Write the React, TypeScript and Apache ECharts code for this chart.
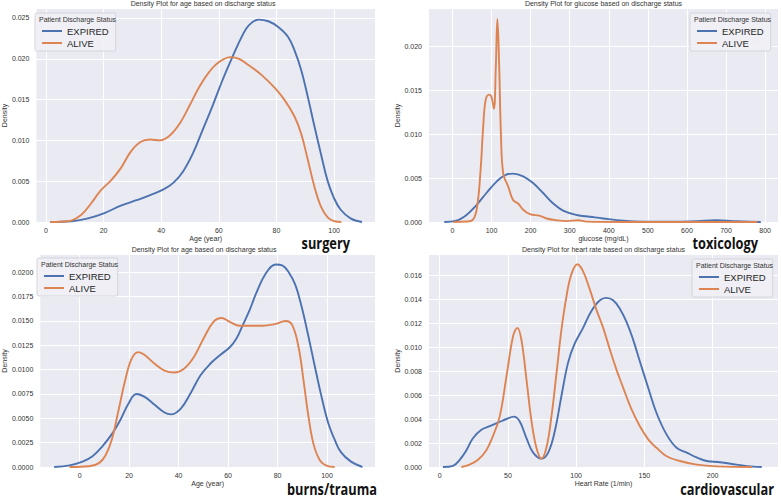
import React, { useEffect, useRef } from 'react';
import * as echarts from 'echarts';

// ---- data (x, density) ----
const surgeryExpired: [number, number][] = [
  [1.5, 0], [8.9, 0.0001], [14.6, 0.00045], [20.3, 0.0011], [26, 0.002], [31.7, 0.0027], [36.2, 0.0033],
  [40.8, 0.004], [44.2, 0.0048], [47.6, 0.0062], [51, 0.0084], [54.4, 0.0113], [57.9, 0.0143], [61.3, 0.0174],
  [64.7, 0.0202], [68.1, 0.0228], [70.4, 0.0241], [73.8, 0.0248], [77.2, 0.0246], [80.6, 0.0239], [84, 0.0227],
  [86.3, 0.021], [88.6, 0.0186], [90.9, 0.0153], [93.2, 0.0117], [95.4, 0.0084], [97.7, 0.0051], [100, 0.0029],
  [102.3, 0.0015], [105.7, 0.00045], [109.7, 0.0],
];
const surgeryAlive: [number, number][] = [
  [1.5, 0], [7.7, 0.0001], [12.3, 0.0009], [15.7, 0.0023], [19.1, 0.0039], [22.6, 0.0051], [26, 0.0066],
  [29.4, 0.0086], [32.8, 0.0098], [36.2, 0.0101], [39.6, 0.01], [43, 0.0106], [46.5, 0.0121], [49.9, 0.0143],
  [53.3, 0.0166], [56.7, 0.0184], [60.1, 0.0196], [64.1, 0.0202], [67, 0.02], [70.4, 0.0192], [74.9, 0.018],
  [79.5, 0.0164], [82.9, 0.0149], [86.3, 0.0129], [88.6, 0.0108], [90.9, 0.0076], [93.2, 0.0043], [95.4, 0.0019],
  [97.7, 0.0006], [100, 0.0001], [102.5, 0],
];
const toxExpired: [number, number][] = [
  [-21, 0], [10, 0.00015], [36, 0.0008], [61, 0.0019], [87, 0.0033], [113, 0.0046], [138, 0.0054], [155, 0.0055],
  [181, 0.0052], [207, 0.0044], [232, 0.0033], [258, 0.0021], [283, 0.0013], [318, 0.0008], [352, 0.0006],
  [386, 0.0004], [437, 0.00015], [488, 0.00004], [565, 0.00002], [625, 0.0001], [676, 0.0002], [719, 0.0001],
  [762, 0.00002], [789, 0],
];
const toxAlive: [number, number][] = [
  [2, 0], [36, 0.00005], [53, 0.0003], [63, 0.0017], [72, 0.0059], [78.6, 0.0108], [85, 0.0139], [94, 0.0145],
  [100, 0.0142], [106, 0.0129], [111, 0.0177], [115, 0.0231], [119.6, 0.0177], [124, 0.0101], [130, 0.0055],
  [143, 0.004], [155, 0.0025], [168, 0.0021], [181, 0.0014], [198, 0.0009], [224, 0.0007], [241, 0.0004],
  [266, 0.0002], [292, 0.0001], [322, 0.0002], [343, 0.00004], [437, 0], [780, 0],
];
const burnsExpired: [number, number][] = [
  [-10.3, 0], [-4.1, 0.00017], [1.2, 0.00055], [5.2, 0.0011], [9.1, 0.0021], [13.1, 0.0034], [16.4, 0.0048],
  [19.7, 0.0065], [23, 0.0075], [26.3, 0.0072], [30.3, 0.0064], [34.3, 0.0056], [36.9, 0.0054], [40.9, 0.006],
  [44.9, 0.0076], [48.8, 0.0094], [52.8, 0.0106], [56.8, 0.0115], [60.7, 0.0123], [63.4, 0.0132], [66, 0.0146],
  [68.7, 0.0161], [71.3, 0.0178], [75.3, 0.0199], [79.3, 0.0208], [81.9, 0.0207], [84.5, 0.02], [87.2, 0.0187],
  [89.8, 0.0164], [92.5, 0.0134], [95.1, 0.0103], [97.8, 0.0072], [100.4, 0.0046], [103.1, 0.0028],
  [105.7, 0.0015], [109.7, 0.00055], [114.3, 0.0],
];
const burnsAlive: [number, number][] = [
  [-4.1, 0], [3.8, 0.00007], [7.8, 0.0004], [10.5, 0.0012], [13.1, 0.0029], [15.7, 0.0058], [18.4, 0.0089],
  [21, 0.0111], [23.7, 0.0118], [26.3, 0.0115], [30.3, 0.0106], [34.3, 0.0099], [38.2, 0.0097], [42.2, 0.0101],
  [46.2, 0.0113], [50.1, 0.0132], [54.1, 0.0149], [57.4, 0.0153], [60.7, 0.0149], [64.7, 0.0145], [68.7, 0.0145],
  [73.9, 0.0145], [79.3, 0.0147], [83.2, 0.015], [85.9, 0.0146], [88.5, 0.0123], [90.5, 0.0089], [92.5, 0.0052],
  [94.5, 0.0024], [97.1, 0.0007], [99.8, 0.00014], [103.1, 0],
];
const cardioExpired: [number, number][] = [
  [2.4, 0], [9.8, 0.0001], [14.7, 0.0006], [19.6, 0.0014], [24.4, 0.0024], [30.6, 0.0031], [36.7, 0.0034],
  [42.8, 0.0037], [48.9, 0.004], [54.3, 0.0042], [58.7, 0.0038], [63.6, 0.0024], [68.5, 0.0012], [74.6, 0.0007],
  [79.5, 0.0012], [84.4, 0.003], [89.2, 0.0059], [94.1, 0.0087], [99, 0.0103], [105.1, 0.0116], [111.2, 0.013],
  [117.4, 0.0139], [122.2, 0.0141], [127.1, 0.0139], [132, 0.0132], [136.9, 0.0121], [141.8, 0.0106],
  [146.7, 0.0088], [152.8, 0.0066], [158.9, 0.0045], [166.3, 0.0027], [173.6, 0.0016], [181, 0.0012],
  [188.3, 0.0008], [195.6, 0.0005], [205.4, 0.0004], [217.6, 0.0002], [229.8, 0.00003], [236, 0],
];
const cardioAlive: [number, number][] = [
  [15.9, 0], [22, 0.0002], [28.1, 0.0006], [34.2, 0.0014], [39.1, 0.0026], [44, 0.0042], [48.9, 0.0075],
  [53.8, 0.0109], [57, 0.0116], [59.9, 0.0106], [63.6, 0.0073], [67.2, 0.0039], [70.9, 0.0016], [74.6, 0.0007],
  [78.2, 0.0016], [81.9, 0.0042], [85.6, 0.0078], [89.2, 0.0114], [92.9, 0.0142], [96.6, 0.0161], [101, 0.0169],
  [105.1, 0.0163], [110, 0.0148], [114.9, 0.0131], [119.8, 0.0116], [124.7, 0.0098], [129.6, 0.0081],
  [134.5, 0.0066], [140.6, 0.0048], [146.7, 0.0034], [152.8, 0.0023], [158.9, 0.0016], [166.3, 0.0009],
  [176, 0.0005], [188.3, 0.0002], [203, 0.00005], [228.6, 0],
];

const surgeryXTicks = [0, 20, 40, 60, 80, 100];
const surgeryYTicks = [0, 0.005, 0.01, 0.015, 0.02, 0.025];
const toxXTicks = [0, 100, 200, 300, 400, 500, 600, 700, 800];
const toxYTicks = [0, 0.005, 0.01, 0.015, 0.02];
const burnsXTicks = [0, 20, 40, 60, 80, 100, 120];
const burnsYTicks = [0, 0.0025, 0.005, 0.0075, 0.01, 0.0125, 0.015, 0.0175, 0.02];
const cardioXTicks = [0, 50, 100, 150, 200];
const cardioYTicks = [0, 0.002, 0.004, 0.006, 0.008, 0.01, 0.012, 0.014, 0.016];

const titles = [
  'Density Plot for age based on discharge status',
  'Density Plot for glucose based on discharge status',
  'Density Plot for age based on discharge status',
  'Density Plot for heart rate based on discharge status',
];
const xNames = ['Age (year)', 'glucose (mg/dL)', 'Age (year)', 'Heart Rate (1/min)'];
const tags = ['surgery', 'toxicology', 'burns/trauma', 'cardiovascular'];
const seriesNames = ['EXPIRED', 'ALIVE'];

const BLUE = '#4C72B0';
const ORANGE = '#DD8452';
const FONT = '"Liberation Sans", Arial, sans-serif';
const TXT = '#333';

export default function App() {
  const ref = useRef<HTMLDivElement>(null);
  useEffect(() => {
    if (!ref.current) return;
    const chart = echarts.init(ref.current, undefined, { renderer: 'svg' });

    const grids = [
      { left: 31, top: 9, width: 344, height: 213 },
      { left: 429, top: 9, width: 349, height: 213 },
      { left: 33, top: 255, width: 342, height: 212 },
      { left: 429, top: 255, width: 349, height: 212 },
    ];
    const xRanges = [[-3.3, 114.2], [-60, 833], [-15.9, 119.4], [-7.8, 247.9]];
    const yMax = [0.0261, 0.02424, 0.02177, 0.01767];
    const xTicks = [surgeryXTicks, toxXTicks, burnsXTicks, cardioXTicks];
    const yTicks = [surgeryYTicks, toxYTicks, burnsYTicks, cardioYTicks];
    const yDigits = [3, 3, 4, 3];
    const yNameGap = [24, 24, 27, 24];
    const data = [
      [surgeryExpired, surgeryAlive],
      [toxExpired, toxAlive],
      [burnsExpired, burnsAlive],
      [cardioExpired, cardioAlive],
    ];
    const legendPos = [
      { left: 35, top: 13 },
      { left: 690, top: 13 },
      { left: 37, top: 258 },
      { left: 692, top: 259 },
    ];
    const tagPos = [
      { x: 350, y: 243 },
      { x: 758, y: 243 },
      { x: 377, y: 489 },
      { x: 774, y: 489 },
    ];

    const series: any[] = [];
    data.forEach((pair, i) => {
      pair.forEach((d, j) => {
        series.push({
          type: 'line',
          name: seriesNames[j],
          xAxisIndex: i,
          yAxisIndex: i,
          data: d,
          showSymbol: false,
          symbol: 'none',
          smooth: 0.4,
          lineStyle: { width: 1.9, color: j === 0 ? BLUE : ORANGE },
          itemStyle: { color: j === 0 ? BLUE : ORANGE },
          z: 3 + j,
        });
      });
    });

    const option: any = {
      animation: false,
      backgroundColor: '#ffffff',
      textStyle: { fontFamily: FONT },
      title: grids.map((g, i) => ({
        text: titles[i],
        left: g.left + g.width / 2,
        textAlign: 'center',
        top: g.top - 9,
        padding: 0,
        textStyle: { fontSize: 7, fontWeight: 'normal', color: TXT, fontFamily: FONT },
      })),
      grid: grids.map((g) => ({
        ...g,
        show: true,
        backgroundColor: '#EAEAF2',
        borderWidth: 0,
        containLabel: false,
      })),
      xAxis: grids.map((g, i) => ({
        type: 'value',
        gridIndex: i,
        min: xRanges[i][0],
        max: xRanges[i][1],
        name: xNames[i],
        nameLocation: 'middle',
        nameGap: 13,
        nameTextStyle: { fontSize: 7, color: TXT, fontFamily: FONT },
        axisLine: { show: false },
        axisTick: { show: false, customValues: xTicks[i] },
        axisLabel: {
          customValues: xTicks[i],
          fontSize: 7,
          color: TXT,
          margin: 5,
          fontFamily: FONT,
          showMinLabel: true,
          showMaxLabel: true,
        },
        splitLine: { show: true, lineStyle: { color: '#ffffff', width: 1 } },
      })),
      yAxis: grids.map((g, i) => ({
        type: 'value',
        gridIndex: i,
        min: 0,
        max: yMax[i],
        name: 'Density',
        nameLocation: 'middle',
        nameGap: yNameGap[i],
        nameRotate: 90,
        nameTextStyle: { fontSize: 7, color: TXT, fontFamily: FONT },
        axisLine: { show: false },
        axisTick: { show: false, customValues: yTicks[i] },
        axisLabel: {
          customValues: yTicks[i],
          fontSize: 7,
          color: TXT,
          margin: 7,
          fontFamily: FONT,
          formatter: (v: number) => v.toFixed(yDigits[i]),
        },
        splitLine: { show: true, lineStyle: { color: '#ffffff', width: 1 } },
      })),
      legend: legendPos.map((p) => ({
        left: p.left,
        top: p.top,
        orient: 'vertical',
        data: seriesNames.map((n) => ({ name: n, icon: 'rect' })),
        itemWidth: 20,
        itemHeight: 2,
        itemGap: 2,
        padding: [13, 7, 3, 7],
        backgroundColor: 'rgba(240,240,246,0.85)',
        borderColor: '#d4d4dc',
        borderWidth: 1,
        borderRadius: 2,
        selectedMode: false,
        textStyle: { fontSize: 9.5, color: '#262626', fontFamily: FONT },
      })),
      graphic: [
        ...legendPos.map((p) => ({
          type: 'text',
          left: p.left + 4,
          top: p.top + 3,
          z: 100,
          style: { text: 'Patient Discharge Status', fontSize: 7, fill: TXT, fontFamily: FONT },
        })),
        ...tagPos.map((p, i) => ({
          type: 'text',
          x: p.x,
          y: p.y,
          scaleX: 0.8,
          z: 100,
          style: {
            text: tags[i],
            fontSize: 16,
            fontWeight: 'bold',
            fill: '#111',
            fontFamily: '"Open Sans", Lato, sans-serif',
            align: 'right',
            verticalAlign: 'middle',
          },
        })),
      ],
      series,
    };
    chart.setOption(option);
    return () => chart.dispose();
  }, []);
  return (
    <div
      ref={ref}
      style={{ position: 'absolute', left: 0, top: 0, width: 781, height: 498 }}
    />
  );
}
